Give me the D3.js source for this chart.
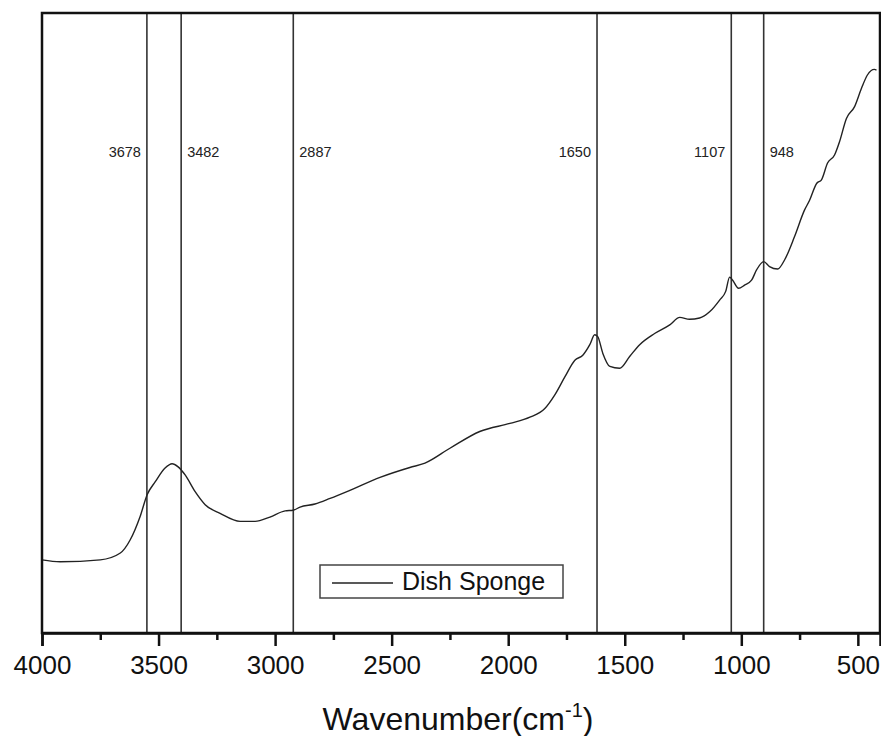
<!DOCTYPE html>
<html>
<head>
<meta charset="utf-8">
<script src="https://cdn.jsdelivr.net/npm/d3@7"></script>
<style>
  body { margin: 0; background: #fff; }
  svg { display: block; font-family: "Liberation Sans", Arial, sans-serif; }
</style>
</head>
<body>
<script>
// FTIR spectrum of the dish sponge
var wavenumbers = [4000, 3922, 3750, 3664, 3622, 3579, 3549, 3514, 3472, 3442, 3416, 3386, 3343, 3300,
  3236, 3150, 3086, 3022, 2957, 2923, 2893, 2829, 2764, 2679, 2550, 2422, 2357, 2250, 2122, 1993,
  1907, 1843, 1800, 1757, 1714, 1680, 1650, 1629, 1616, 1594, 1564, 1522, 1479, 1436, 1372, 1307,
  1264, 1222, 1179, 1136, 1093, 1067, 1050, 1037, 1012, 986, 956, 934, 904, 879, 844, 814, 772,
  729, 707, 677, 656, 630, 600, 579, 549, 514, 484, 459, 429, 420];
var transmittance = [11.8, 11.5, 11.8, 12.9, 15.0, 18.8, 22.3, 24.4, 26.6, 27.3, 26.8, 25.5, 22.8, 20.7,
  19.3, 18.0, 18.0, 18.7, 19.7, 19.8, 20.3, 20.8, 21.7, 23.0, 25.1, 26.7, 27.4, 29.8, 32.5, 33.8,
  34.8, 36.2, 38.4, 41.3, 44.0, 44.8, 46.5, 48.1, 47.8, 45.1, 43.0, 42.7, 44.6, 46.5, 48.3, 49.7,
  50.9, 50.6, 50.8, 51.8, 53.7, 55.1, 57.4, 56.9, 55.6, 56.1, 56.9, 58.6, 59.9, 59.1, 58.7, 60.2, 63.9,
  68.2, 69.8, 72.5, 73.1, 75.8, 77.1, 79.2, 83.0, 84.9, 87.9, 90.0, 90.9, 90.8];

// marker lines and their labels (labels as printed on the figure)
var peakPositions = [3550, 3403, 2922, 1619, 1043, 904];
var peakLabels = ["3678", "3482", "2887", "1650", "1107", "948"];
var labelSide = ["left", "right", "right", "left", "left", "right"];

var majorTicks = [4000, 3500, 3000, 2500, 2000, 1500, 1000, 500];
var minorTicks = [3750, 3250, 2750, 2250, 1750, 1250, 750];
var seriesName = "Dish Sponge";

var width = 881, height = 736;
var margin = {top: 13, right: 1, bottom: 103, left: 42};

var svg = d3.select("body").append("svg")
    .attr("width", width)
    .attr("height", height);

var x = d3.scaleLinear()
    .domain([4000, 405])
    .range([margin.left, width - margin.right]);

var y = d3.scaleLinear()
    .domain([0, 100])
    .range([height - margin.bottom, margin.top]);

var bottom = height - margin.bottom;

// marker lines
svg.append("g").selectAll("line")
    .data(peakPositions)
    .join("line")
    .attr("x1", d => x(d))
    .attr("x2", d => x(d))
    .attr("y1", margin.top)
    .attr("y2", bottom)
    .attr("stroke", "#333")
    .attr("stroke-width", 1.6);

svg.append("g").selectAll("text")
    .data(peakLabels)
    .join("text")
    .attr("x", (d, i) => x(peakPositions[i]) + (labelSide[i] == "left" ? -6 : 6))
    .attr("y", 157)
    .attr("text-anchor", (d, i) => labelSide[i] == "left" ? "end" : "start")
    .attr("font-size", 14.5)
    .attr("fill", "#222")
    .text(d => d);

// the spectrum
var line = d3.line()
    .x((d, i) => x(wavenumbers[i]))
    .y(d => y(d))
    .curve(d3.curveMonotoneX);

svg.append("path")
    .datum(transmittance)
    .attr("d", line)
    .attr("fill", "none")
    .attr("stroke", "#222")
    .attr("stroke-width", 1.4)
    .attr("stroke-linejoin", "round");

// frame
svg.append("rect")
    .attr("x", margin.left)
    .attr("y", margin.top)
    .attr("width", width - margin.right - margin.left)
    .attr("height", bottom - margin.top)
    .attr("fill", "none")
    .attr("stroke", "#111")
    .attr("stroke-width", 2.5);

// x axis, major + minor ticks
var xAxis = svg.append("g")
    .attr("transform", "translate(0," + bottom + ")")
    .call(d3.axisBottom(x).tickValues(majorTicks).tickSize(13).tickPadding(10).tickFormat(d3.format("d")));
xAxis.select(".domain").attr("stroke-width", 2.5).attr("stroke", "#111");
xAxis.selectAll(".tick line").attr("stroke-width", 2.5).attr("stroke", "#111");
xAxis.selectAll(".tick text")
    .attr("font-size", 26)
    .attr("font-family", "Liberation Sans, Arial, sans-serif")
    .attr("fill", "#111");

var xMinor = svg.append("g")
    .attr("transform", "translate(0," + bottom + ")")
    .call(d3.axisBottom(x).tickValues(minorTicks).tickSize(7).tickFormat(""));
xMinor.select(".domain").remove();
xMinor.selectAll(".tick line").attr("stroke-width", 2.5).attr("stroke", "#111");

// axis title
var title = svg.append("text")
    .attr("x", 458)
    .attr("y", 730)
    .attr("text-anchor", "middle")
    .attr("font-size", 32)
    .attr("fill", "#111");
title.append("tspan").text("Wavenumber(cm");
title.append("tspan").attr("font-size", 20).attr("dy", -13).text("-1");
title.append("tspan").attr("dy", 13).text(")");

// legend
var legend = svg.append("g");
legend.append("rect")
    .attr("x", 320)
    .attr("y", 565)
    .attr("width", 243)
    .attr("height", 33)
    .attr("fill", "#fff")
    .attr("stroke", "#444")
    .attr("stroke-width", 1.5);
legend.append("line")
    .attr("x1", 332).attr("x2", 393)
    .attr("y1", 583).attr("y2", 583)
    .attr("stroke", "#222")
    .attr("stroke-width", 1.4);
legend.append("text")
    .attr("x", 402)
    .attr("y", 590)
    .attr("font-size", 25)
    .attr("fill", "#111")
    .text(seriesName);
</script>
</body>
</html>
